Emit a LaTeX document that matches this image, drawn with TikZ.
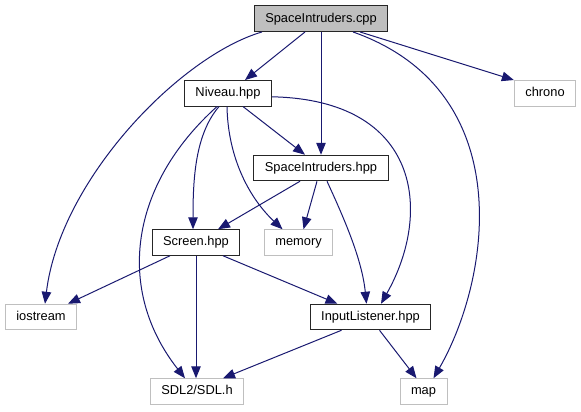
\documentclass[tikz,border=0pt]{standalone}
\usepackage{fontspec}
\setmainfont{Liberation Sans}
\usetikzlibrary{arrows.meta}

\definecolor{depblue}{HTML}{191970}
\definecolor{extgray}{HTML}{BFBFBF}

\begin{document}
\begin{tikzpicture}[
    x=1bp, y=-1bp,
    file/.style = {draw=black!85, line width=1bp, minimum height=25.5bp, inner xsep=11bp, inner ysep=0pt,
                   text height=9.5bp, text depth=2.7bp, font=\fontsize{12.9}{15}\selectfont},
    root/.style = {file, fill=extgray},
    ext/.style  = {file, draw=extgray},
    dep/.style  = {draw=depblue, line width=1bp, -{Triangle[length=12bp,width=9.5bp]}},
]

\useasboundingbox (0,0) rectangle (581,411);

%% ---- Files ----

\node[root] (cpp)      at (321,18.7)   {SpaceIntruders.cpp};
\node[file] (niveau)   at (228,93.3)   {Niveau.hpp};
\node[ext]  (chrono)   at (545,93.3)   {chrono};
\node[file] (sihpp)    at (321,168)    {SpaceIntruders.hpp};
\node[file] (screen)   at (196,242.5)  {Screen.hpp};
\node[ext]  (memory)   at (298.5,242.5){memory};
\node[ext]  (iostream) at (41,317)     {iostream};
\node[file] (input)    at (370.5,317)  {InputListener.hpp};
\node[ext]  (sdl)      at (197,391.5)  {SDL2/SDL.h};
\node[ext]  (mapn)     at (423.5,391.5){map};

%% ---- SpaceIntruders.cpp includes ----

\draw[dep] ([xshift=-16bp]cpp.south) -- ([xshift=17bp]niveau.north);
\draw[dep] ([xshift=-59bp]cpp.south) .. controls +(-82,24) and +(15,-124) .. ([xshift=4bp]iostream.north);
\draw[dep] (cpp.south) -- (sihpp.north);
\draw[dep] ([xshift=32bp]cpp.south) .. controls +(167,59) and +(57,-99) .. ([xshift=10bp]mapn.north);
\draw[dep] ([xshift=39bp]cpp.south) -- (chrono.north west);

%% ---- Niveau.hpp includes ----

\draw[dep] ([xshift=15bp]niveau.south) -- ([xshift=-16bp]sihpp.north);
\draw[dep] ([xshift=-9bp]niveau.south) .. controls +(-24,28) and +(0,-50) .. ([xshift=-3bp]screen.north);
\draw[dep] ([xshift=-1bp]niveau.south) .. controls +(1,53) and +(-32,-30) .. ([xshift=-16bp]memory.north);
\draw[dep] ([yshift=-3.5bp]niveau.east) .. controls +(148,3) and +(52,-92) .. ([xshift=10.5bp]input.north);
\draw[dep] ([xshift=-11bp]niveau.south) .. controls +(-87,78) and +(-70,-89) .. ([xshift=-12bp]sdl.north);

%% ---- SpaceIntruders.hpp includes ----

\draw[dep] ([xshift=-21bp]sihpp.south) -- ([xshift=22bp]screen.north);
\draw[dep] ([xshift=-4bp]sihpp.south) -- ([xshift=5bp]memory.north);
\draw[dep] ([xshift=6bp]sihpp.south) .. controls +(18,39) and +(-4.5,-44) .. ([xshift=-4bp]input.north);

%% ---- Screen.hpp and InputListener.hpp includes ----

\draw[dep] ([xshift=-26bp]screen.south) -- ([xshift=27bp]iostream.north);
\draw[dep] (screen.south) -- ([xshift=-1bp]sdl.north);
\draw[dep] ([xshift=27bp]screen.south) -- ([xshift=-33bp]input.north);
\draw[dep] ([xshift=-29bp]input.south) -- ([xshift=26bp]sdl.north);
\draw[dep] ([xshift=9bp]input.south) -- ([xshift=-7bp]mapn.north);

\end{tikzpicture}
\end{document}
